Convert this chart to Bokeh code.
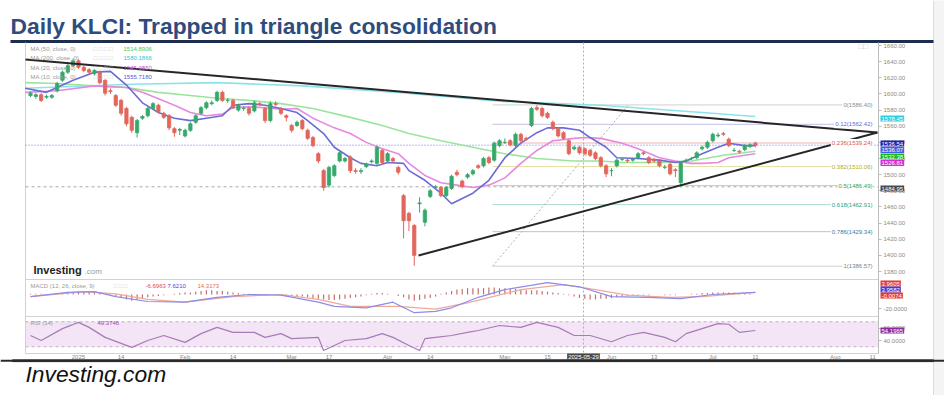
from bokeh.plotting import figure
from bokeh.models import (Range1d, LinearAxis, FixedTicker, Label, Span,
                          ColumnDataSource, NumeralTickFormatter)
from bokeh.embed import file_html
from bokeh.resources import INLINE

FONT = "Liberation Sans"

# ---------------- data ----------------
opens = [1598,1597,1599,1596,1596,1604,1617,1627,1635,1641,
         1633,1630,1625,1627,1617,1604,1598,1592,1582,1571,
         1552,1570,1573,1582,1586,1576,1573,1557,1555,1548,
         1555,1565,1576,1583,1588,1592,1602,1592,1592,1580,
         1582,1582,1579,1588,1582,1567,1588,1582,1573,1561,
         1561,1567,1555,1546,1526,1505,1487,1499,1517,1517,
         1522,1505,1504,1510,1516,1514,1530,1517,1520,1509,
         1474,1452,1437,1464,1441,1473,1484,1484,1474,1483,
         1503,1492,1497,1501,1511,1511,1521,1518,1536,1540,
         1542,1536,1550,1545,1561,1583,1582,1576,1565,1557,
         1552,1542,1532,1534,1532,1530,1527,1521,1511,1505,
         1511,1519,1518,1518,1521,1527,1521,1519,1517,1509,
         1513,1506,1490,1517,1520,1521,1532,1534,1542,1548,
         1551,1544,1530,1529,1531,1535,1539]
closes = [1601,1599,1592,1597,1598,1613,1627,1635,1641,1633,
          1629,1627,1629,1614,1601,1603,1586,1576,1563,1555,
          1567,1572,1582,1588,1578,1571,1558,1552,1556,1555,
          1563,1573,1583,1589,1589,1602,1592,1592,1583,1586,
          1582,1576,1589,1587,1567,1588,1587,1576,1571,1555,
          1565,1557,1545,1536,1517,1484,1509,1511,1527,1520,
          1505,1504,1505,1513,1517,1534,1515,1526,1517,1503,
          1443,1443,1400,1465,1456,1480,1485,1474,1484,1498,
          1500,1485,1500,1505,1509,1520,1515,1539,1542,1540,
          1537,1550,1542,1544,1582,1581,1573,1571,1557,1548,
          1545,1526,1534,1527,1526,1524,1520,1511,1501,1505,
          1518,1519,1517,1519,1526,1526,1515,1517,1511,1509,
          1501,1505,1515,1518,1520,1527,1534,1540,1550,1549,
          1550,1536,1530,1528,1536,1537,1536.54]
highs = [1603,1601,1601,1599,1600,1615,1629,1637,1644,1643,
         1635,1632,1631,1629,1618,1607,1600,1594,1584,1573,
         1569,1574,1584,1590,1588,1578,1575,1559,1558,1557,
         1565,1575,1585,1591,1592,1604,1604,1595,1594,1588,
         1585,1584,1592,1590,1584,1591,1591,1584,1575,1563,
         1567,1569,1557,1548,1528,1507,1511,1513,1529,1522,
         1524,1508,1508,1515,1519,1536,1532,1528,1522,1511,
         1476,1454,1439,1472,1458,1482,1487,1486,1486,1500,
         1506,1494,1502,1507,1513,1522,1523,1541,1544,1545,
         1544,1552,1552,1547,1584,1586,1584,1578,1567,1559,
         1554,1544,1536,1536,1534,1532,1529,1523,1513,1508,
         1520,1521,1520,1521,1528,1529,1523,1521,1519,1512,
         1515,1508,1517,1520,1522,1529,1536,1542,1552,1552,
         1553,1546,1533,1531,1538,1539,1541]
lows = [1596,1594,1590,1594,1594,1602,1615,1625,1633,1631,
        1627,1624,1623,1612,1598,1600,1584,1573,1560,1552,
        1546,1568,1571,1580,1576,1569,1555,1547,1549,1546,
        1553,1563,1574,1581,1586,1590,1590,1589,1581,1578,
        1579,1573,1577,1585,1564,1565,1585,1574,1566,1552,
        1559,1555,1543,1534,1514,1480,1484,1497,1515,1515,
        1502,1501,1501,1508,1514,1512,1512,1515,1515,1500,
        1421,1430,1387,1453,1436,1471,1482,1472,1472,1481,
        1498,1483,1495,1499,1507,1509,1513,1516,1534,1538,
        1535,1534,1540,1542,1559,1579,1571,1569,1555,1546,
        1543,1524,1530,1525,1524,1522,1518,1509,1497,1498,
        1509,1517,1515,1516,1519,1524,1513,1515,1509,1507,
        1499,1497,1485,1515,1518,1519,1530,1532,1540,1546,
        1548,1534,1528,1526,1529,1533,1534]

ma10_idx = [-1,3,8,12,15,18,21,24,27,30,33,36,38,41,44,47,50,52,55,57,60,62,65,67,70,71,74,77,79,83,86,89,92,95,97,100,103,105,108,110,114,118,121,123,126,129,131,134,136]
ma10_val = [1607,1602,1617,1627,1628,1611,1589,1577,1570,1567,1570,1573,1586,1588,1586,1582,1577,1567,1551,1534,1521,1514,1511,1515,1514,1505,1493,1477,1464,1477,1493,1521,1539,1552,1558,1558,1555,1546,1534,1521,1520,1518,1515,1517,1526,1534,1539,1536,1536]
ma20_idx = [-1,5,12,18,21,24,27,30,33,36,38,41,44,47,50,53,57,60,63,66,69,71,74,77,80,83,86,89,92,95,98,102,104,107,111,114,118,121,124,126,129,131,134,136]
ma20_val = [1602,1604,1610,1608,1602,1594,1586,1577,1573,1575,1583,1584,1583,1581,1582,1570,1558,1551,1540,1532,1526,1514,1499,1490,1487,1484,1487,1496,1514,1530,1542,1545,1546,1545,1539,1532,1521,1517,1514,1514,1515,1521,1524,1526]
ma50_idx = [-1,5,12,18,24,30,36,41,47,53,60,66,71,77,83,89,95,102,107,111,118,124,130,136]
ma50_val = [1614,1613,1610,1608,1602,1598,1594,1592,1588,1582,1571,1561,1551,1542,1534,1526,1520,1517,1517,1515,1515,1517,1524,1529]
ma200_idx = [-1,19,35,51,69,88,107,126,136]
ma200_val = [1607,1612,1614,1610,1602,1591,1586,1577,1572]

macd_idx = [0,7,12,16,22,29,35,41,47,54,57,63,68,72,76,79,84,89,97,103,109,116,122,128,136]
macd_val = [-3,3,4,-3,-10,-11,-4,0,-1,-11,-17,-19,-11,-26,-24,-19,-4,7,17,11,-3,-4,-6,0,3]
signal_idx = [0,10,16,22,29,38,47,54,60,69,76,82,92,100,106,112,120,126,136]
signal_val = [-3,4,1,-7,-11,-3,0,-7,-17,-17,-21,-12,7,14,7,-1,-4,-3,3]
macd_hist = [1,1,1,0,0,1,2, 3,4,5,5,4,3,2, 0,-1,-2, -5,-7,-9,-8,-6, -4,-3,-2,
             -1,0,1,2,3,3,4, 5,6,6,5,5,4,3,2, 1,1,0,0,-1,0, 0,-1,-2,-2,-3,-3,-4,-5,
             -6,-7,-8,-8,-7,-6,-5,-4,-3, -1,1,2,2,1,0, -2,-4,-7,-9,-8,-6,-5,-3,
             1,3,5,7,8,9,9, 9,9,10,10,9,9,8,8,7,6,6,6,5,4,3,2,1,
             -1,-3,-5,-6,-7,-7,-6,-6,-5,-4,-3, -2,-2,-1,-1,-1,0,0,-1,-1,-1,0,0,1,
             1,2,2,3,3,3,3,3,2,2,1,0]

rsi_idx = [0,2,6,9,11,14,19,22,25,29,32,35,38,42,44,47,49,54,55,59,63,66,68,71,73,74,76,79,82,84,88,92,95,99,102,105,109,112,115,119,121,123,126,129,131,133,136]
rsi_val = [48,40,59,69,61,45,29,40,48,37,51,61,53,53,45,51,43,45,24,40,43,51,45,32,24,43,45,48,53,56,64,61,69,61,48,48,38,48,53,45,38,51,59,67,66,53,56]

tick_idx = [9, 17, 29, 38, 49, 56, 67, 75, 89, 97, 109, 117, 128, 136, 151, 158]
tick_labels = ["2025", "14", "Feb", "14", "Mar", "17", "Apr", "14", "May", "15",
               "Jun", "13", "Jul", "11", "Aug", "11"]
price_ticks = [1380, 1400, 1420, 1440, 1460, 1480, 1500, 1520, 1540, 1560, 1580, 1600, 1620, 1640, 1660]
macd_ticks = [-20]
rsi_ticks = [40, 60]

fib_ratios = ["0", "0.12", "0.236", "0.382", "0.5", "0.618", "0.786", "1"]
fib_prices = [1586.40, 1562.42, 1539.24, 1510.06, 1486.49, 1462.91, 1429.34, 1386.57]
fib_start_idx = 86.7
fib_anchor_idx = [86.7, 112.2]
fib_anchor_price = [1386.57, 1586.40]

upper_tl_idx = [-0.94, 158.9]
upper_tl_price = [1642.7, 1552.2]
lower_tl_idx = [72.8, 158.9]
lower_tl_price = [1399.8, 1552.2]

last_price = 1536.54
cross_price = 1484.95
cross_idx = 103.75
cross_date = "2025-05-29"

legend_rows = [("MA (50, close, 0)", "1514.8906"), ("MA (200, close, 0)", "1580.1866"),
               ("MA (20, close, 0)", "1545.0850"), ("MA (10, close, 0)", "1555.7180")]
price_tags = ["1578.45", "1536.54", "1536.07", "1532.38", "1526.81", "1484.95"]
macd_legend = ["-6.6963", "7.6210", "14.3173"]
macd_tags = ["3.9605", "3.9582", "-0.0074"]
rsi_legend = "49.3746"
rsi_tag = "54.1965"

# ---------------- layout (screen pixels) ----------------
CW, CH = 944, 395
BAR0, BAR_W = 30, 5.33
P_REF_Y, P_REF, P_K = 271, 1380, 0.807
M_ZERO_Y, M_K = 294, 0.7
R_REF_Y, R_REF, R_K = 340, 40, 0.625
LEFT, AXIS_X = 25, 878
TOP, SEP1, SEP2, BOT = 42, 279, 316, 353
FOOT_Y = 360


def ix(sx): return (sx - BAR0) / BAR_W
def py(sy): return P_REF + (P_REF_Y - sy) / P_K
def my(sy): return (M_ZERO_Y - sy) / M_K
def ry(sy): return R_REF + (R_REF_Y - sy) / R_K


UP, DOWN = "#35a96b", "#e2665c"
C_MA10, C_MA20, C_MA50, C_MA200 = "#6b6bd6", "#e48ae0", "#9be59b", "#8ee3ea"
fib_label_colors = ["#8c8c8c", "#6a6ad0", "#e05050", "#b0b020", "#40a040", "#30a080", "#3080a0", "#808080"]
fib_line_colors = ["#d0d0d0", "#c0c0e6", "#f0b4b4", "#e2e2a4", "#b4dab4", "#acdccc", "#acc8dc", "#cfcfcf"]

p = figure(width=CW, height=CH, x_range=Range1d(ix(0), ix(CW)), y_range=Range1d(py(CH), py(0)),
           output_backend="svg", toolbar_location=None, title=None,
           x_axis_location=None, y_axis_location=None, min_border=0)
p.extra_y_ranges = {"macd": Range1d(my(CH), my(0)), "rsi": Range1d(ry(CH), ry(0))}
p.grid.visible = False
p.outline_line_color = None
p.background_fill_color = "white"
p.border_fill_color = "white"


def lab(x, y, text, color="#9a9a9a", size="6px", style="normal", align="left",
        rname="default", **kw):
    p.add_layout(Label(x=x, y=y, text=text, text_font=FONT, text_font_size=size,
                       text_font_style=style, text_color=color, text_align=align,
                       text_baseline="middle", y_range_name=rname, **kw))


def hline(sy, sx0, sx1, color, width=1, dash="solid"):
    p.segment(x0=ix(sx0), y0=py(sy), x1=ix(sx1), y1=py(sy), line_color=color,
              line_width=width, line_dash=dash)


# right grey strip of the page
p.quad(left=ix(933), right=ix(CW + 2), bottom=py(CH + 2), top=py(-2),
       fill_color="#f4f4f4", line_color=None)
p.segment(x0=ix(933), y0=py(0), x1=ix(933), y1=py(CH), line_color="#dddddd", line_width=1)

# ---------------- header ----------------
lab(ix(10), py(25), "Daily KLCI: Trapped in triangle consolidation", color="#2e4c7e",
    size="22.8px", style="bold")
hline(41, 10, 933, "#1d2d4d", width=3)

# ---------------- footer rule (filled band + line + span) ----------------
p.quad(left=ix(12), right=ix(933), bottom=py(FOOT_Y + 1.2), top=py(FOOT_Y - 0.8),
       fill_color="#2a2a2a", line_color="#2a2a2a", line_width=0.5)
hline(FOOT_Y + 0.2, 12, 933, "#2a2a2a", width=2)

# ---------------- RSI band ----------------
p.quad(left=ix(LEFT), right=ix(AXIS_X), bottom=30, top=70, fill_color="#f3e5f5",
       line_color=None, y_range_name="rsi")
for lvl in (30, 70):
    p.segment(x0=ix(LEFT), y0=lvl, x1=ix(AXIS_X), y1=lvl, line_color="#c9a9cf",
              line_dash="3 3", line_width=1, y_range_name="rsi")

# panel borders
for sy in (SEP1, SEP2, BOT):
    hline(sy, LEFT, AXIS_X, "#d2d2d2")
p.segment(x0=ix(LEFT), y0=py(TOP), x1=ix(LEFT), y1=py(BOT), line_color="#d2d2d2")
p.segment(x0=ix(AXIS_X), y0=py(TOP), x1=ix(AXIS_X), y1=py(BOT), line_color="#bdbdbd")

# ---------------- price panel ----------------
n = len(opens)
colors = [UP if c >= o else DOWN for o, c in zip(opens, closes)]
src = ColumnDataSource(dict(i=list(range(n)), h=highs, l=lows,
                            top=[max(o, c) for o, c in zip(opens, closes)],
                            bot=[min(o, c) for o, c in zip(opens, closes)], color=colors))

fib_end_idx = ix(873)
p.segment(x0=[fib_start_idx] * len(fib_prices), y0=fib_prices,
          x1=[fib_end_idx] * len(fib_prices), y1=fib_prices,
          line_color=fib_line_colors, line_width=1)
p.line(fib_anchor_idx, fib_anchor_price, line_color="#b0b0b0", line_dash="2 2", line_width=1)

p.segment(x0=ix(LEFT), y0=cross_price, x1=ix(AXIS_X), y1=cross_price,
          line_color="#a8a8a8", line_dash="3 3", line_width=1)
p.segment(x0=cross_idx, y0=py(TOP), x1=cross_idx, y1=py(BOT),
          line_color="#b0b0b0", line_dash="2 2", line_width=1)
p.segment(x0=ix(LEFT), y0=last_price, x1=ix(AXIS_X), y1=last_price,
          line_color="#7272e0", line_dash="1 2", line_width=1)

p.line(ma200_idx, ma200_val, line_color=C_MA200, line_width=1.6)
p.line(ma50_idx, ma50_val, line_color=C_MA50, line_width=1.6)
p.line(ma20_idx, ma20_val, line_color=C_MA20, line_width=1.6)
p.line(ma10_idx, ma10_val, line_color=C_MA10, line_width=1.6)

p.segment(x0="i", y0="l", x1="i", y1="h", line_color="color", line_width=1, source=src)
p.vbar(x="i", width=0.62, top="top", bottom="bot", fill_color="color", line_color="color",
       line_width=0.8, source=src)

p.line(upper_tl_idx, upper_tl_price, line_color="#262626", line_width=2)
p.line(lower_tl_idx, lower_tl_price, line_color="#262626", line_width=2)

for r_, pr, col in zip(fib_ratios, fib_prices, fib_label_colors):
    lab(fib_end_idx, pr, f"{r_}({pr:.2f})", color=col, align="right",
        background_fill_color="white", padding=1)

leg_colors = ["#4cc94c", "#2fc4d4", "#d24bd2", "#5a5ad0"]
for (name, val), col, sy in zip(legend_rows, leg_colors, (48, 57.5, 67, 76)):
    lab(ix(30), py(sy), name)
    lab(ix(93), py(sy), "\u25a1 \u25a1 \u25a1 \u25a1", color="#c8c8c8")
    lab(ix(123), py(sy), val, color=col)
lab(ix(858), py(46), "\u25a1\u25a1", color="#c8c8c8", size="8px")

lab(ix(33), py(269.5), "Investing", color="#222222", size="11px", style="bold")
lab(ix(84), py(270.5), ".com", color="#9a9a9a", size="8px")

# ---------------- MACD ----------------
p.vbar(x=list(range(len(macd_hist))), width=0.22, top=macd_hist, bottom=0,
       fill_color="#c76a6a", line_color=None, y_range_name="macd")
p.line(signal_idx, signal_val, line_color="#f0a89c", line_width=1.2, y_range_name="macd")
p.line(macd_idx, macd_val, line_color="#8c8ce6", line_width=1.2, y_range_name="macd")
lab(ix(30), my(285), "MACD (12, 26, close, 9)", rname="macd")
lab(ix(113), my(285), "\u25a1 \u25a1 \u25a1", color="#c8c8c8", rname="macd")
lab(ix(145), my(285), macd_legend[0], color="#e04848", rname="macd")
lab(ix(167), my(285), macd_legend[1], color="#4848e0", rname="macd")
lab(ix(197), my(285), macd_legend[2], color="#e06a5a", rname="macd")

# ---------------- RSI ----------------
p.line(rsi_idx, rsi_val, line_color="#a77bb7", line_width=1.2, y_range_name="rsi")
lab(ix(30), ry(322), "RSI (14)", rname="rsi")
lab(ix(60), ry(322), "\u25a1 \u25a1 \u25a1", color="#c8c8c8", rname="rsi")
lab(ix(97), ry(322), rsi_legend, color="#a040c0", rname="rsi")


# ---------------- axes ----------------
def style_axis(ax):
    ax.axis_line_color = None
    ax.major_tick_line_color = "#bdbdbd"
    ax.major_tick_out = 3
    ax.major_tick_in = 0
    ax.minor_tick_line_color = None
    ax.major_label_text_font = FONT
    ax.major_label_text_font_size = "6px"
    ax.major_label_text_color = "#8a8a8a"
    ax.major_label_standoff = 2


pa = LinearAxis(ticker=FixedTicker(ticks=price_ticks), formatter=NumeralTickFormatter(format="0.00"),
                fixed_location=ix(AXIS_X))
ma_ = LinearAxis(y_range_name="macd", ticker=FixedTicker(ticks=macd_ticks),
                 formatter=NumeralTickFormatter(format="0.0000"), fixed_location=ix(AXIS_X))
ra = LinearAxis(y_range_name="rsi", ticker=FixedTicker(ticks=rsi_ticks),
                formatter=NumeralTickFormatter(format="0.0000"), fixed_location=ix(AXIS_X))
for a in (pa, ma_, ra):
    style_axis(a)
    p.add_layout(a, "right")

xa = LinearAxis(ticker=FixedTicker(ticks=tick_idx), fixed_location=py(FOOT_Y - 0.5),
                major_label_overrides={t: s for t, s in zip(tick_idx, tick_labels)})
xa.axis_line_color = None
xa.major_tick_line_color = None
xa.major_tick_out = 0
xa.major_tick_in = 0
xa.minor_tick_line_color = None
xa.major_label_text_font = FONT
xa.major_label_text_font_size = "6px"
xa.major_label_text_color = "#8a8a8a"
xa.major_label_standoff = 0
p.add_layout(xa, "above")


# ---------------- value tags ----------------
def tag(sy, text, bg, rname="default", conv=py):
    lab(ix(880), conv(sy), text, color="white", rname=rname,
        background_fill_color=bg, padding=1)


tag(118, price_tags[0], "#2fcfe0")
tag(143, price_tags[1], "#1e22a8")
tag(149.5, price_tags[2], "#4a5ee0")
tag(156, price_tags[3], "#18b818")
tag(162.5, price_tags[4], "#d62ed6")
tag(188, price_tags[5], "#4a4a4a")
tag(283, macd_tags[0], "#e53935", "macd", my)
tag(289, macd_tags[1], "#3f3fd9", "macd", my)
tag(295, macd_tags[2], "#e53935", "macd", my)
tag(330, rsi_tag, "#8e2b9e", "rsi", ry)
lab(cross_idx, py(356), cross_date, color="white", align="center",
    background_fill_color="#4a4a4a", padding=1)

# ---------------- footer text ----------------
p.add_layout(Span(location=py(FOOT_Y + 0.2), dimension="width", line_color="#2a2a2a",
                  line_width=2))
lab(ix(25), py(373), "Investing.com", color="#111111", size="22.8px", style="italic")

open("out.html", "w").write(file_html(p, INLINE))
